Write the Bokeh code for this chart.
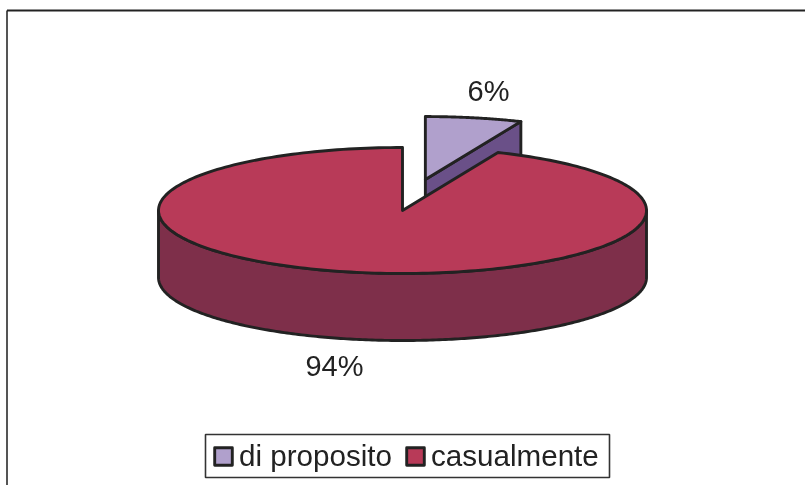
import numpy as np
from bokeh.plotting import figure
from bokeh.embed import file_html
from bokeh.resources import INLINE
from bokeh.models import Legend, LegendItem, Range1d
from bokeh.core.properties import value

categories = ["di proposito", "casualmente"]
shares = [6.4, 93.6]
labels = ["6%", "94%"]
top_colors = ["#B0A0CC", "#B83A58"]
side_colors = ["#6A5088", "#7E2F4A"]

W, H = 805, 485
CX, CY = 402, 210      # pie centre in page pixels
RX, RY = 244, 63       # pie radii in page pixels
DEPTH = 67 / RY        # wall height in pie units
EXPLODE = 0.5
EXPLODE_DIR = np.radians(10.8)
OUT = "#222222"
LW = 2.9


def px(x):
    return (x - CX) / RX


def py(y):
    return (CY - y) / RY


p = figure(width=W, height=H, output_backend="svg", toolbar_location=None,
           x_range=Range1d(px(0), px(W)), y_range=Range1d(py(H), py(0)),
           min_border=0, outline_line_color=None, background_fill_color="white")
p.styles = {"position": "fixed", "left": "0px", "top": "0px"}
p.axis.visible = False
p.grid.visible = False

# chart frame: only left and top edges show in the reference
p.line([px(6.5), px(6.5)], [py(H), py(10)], line_color="#555555", line_width=2)
p.line([px(6.5), px(W)], [py(10), py(10)], line_color="#222222", line_width=2)

fractions = np.array(shares) / sum(shares)
ends = np.cumsum(fractions) * 2 * np.pi
starts = ends - fractions * 2 * np.pi


def arc(a, b, n=240):
    t = np.linspace(a, b, n)
    return np.sin(t), np.cos(t)


# small slice, pulled out of the pie
ox, oy = EXPLODE * np.sin(EXPLODE_DIR), EXPLODE * np.cos(EXPLODE_DIR)
ax, ay = arc(starts[0], ends[0], 60)
ex, ey = ax[-1] + ox, ay[-1] + oy
p.patch([ox, ex, ex, ox], [oy, ey, ey - DEPTH, oy - DEPTH],
        fill_color=side_colors[0], line_color=OUT, line_width=LW, line_join="round")
small = p.patch(np.r_[ox, ax + ox, ox], np.r_[oy, ay + oy, oy],
                fill_color=top_colors[0], line_color=OUT, line_width=LW, line_join="round")

# big slice wall: front half of the rim
wx, wy = arc(np.pi / 2, 3 * np.pi / 2)
p.patch(np.r_[wx, wx[::-1]], np.r_[wy, wy[::-1] - DEPTH],
        fill_color=side_colors[1], line_color=OUT, line_width=LW, line_join="round")

# big slice top
bx, by = arc(starts[1], ends[1])
big = p.patch(np.r_[0, bx, 0], np.r_[0, by, 0],
              fill_color=top_colors[1], line_color=OUT, line_width=LW, line_join="round")

# percent labels
p.text([px(488), px(334)], [py(90), py(365)], text=labels, text_font=value("Liberation Sans"),
       text_font_size="29px", text_align="center", text_baseline="middle", text_color="#222222")

# legend box, drawn apart because it is tighter than the entries' padding allows
p.quad(left=[px(205)], right=[px(609)], top=[py(434)], bottom=[py(477)],
       fill_color="white", line_color="#333333", line_width=1.6)

legend = Legend(items=[LegendItem(label=categories[0], renderers=[small]),
                       LegendItem(label=categories[1], renderers=[big])],
                orientation="horizontal", location=(212, 12),
                label_text_font="Liberation Sans", label_text_font_size="29.6px",
                label_text_color="#222222", label_standoff=5,
                glyph_width=22, glyph_height=22, spacing=12,
                padding=8, margin=0, border_line_color=None,
                background_fill_alpha=0)
p.add_layout(legend, "center")

open("out.html", "w").write(file_html(p, INLINE))
